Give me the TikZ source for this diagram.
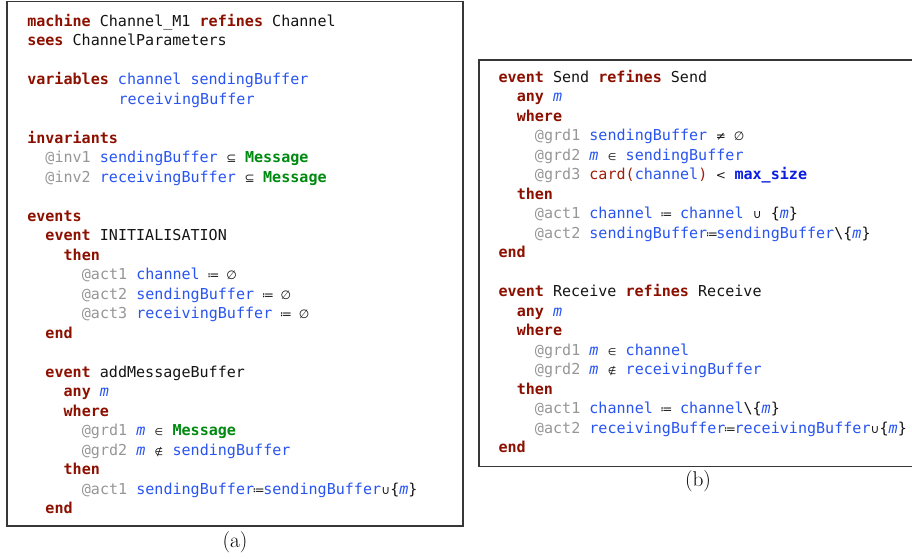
\documentclass[tikz,border=0pt]{standalone}
\usepackage{fontspec}
\setmonofont{DejaVu Sans Mono}
\newfontfamily\symf{DejaVu Sans}[Scale=0.8]
\newfontfamily\symsmall{DejaVu Sans}[Scale=0.65]
\definecolor{kwred}{RGB}{140,16,0}
\definecolor{varblue}{RGB}{40,84,240}
\definecolor{cstblue}{RGB}{10,30,225}
\definecolor{cstgreen}{RGB}{0,138,16}
\definecolor{lblgray}{RGB}{150,150,150}
\definecolor{opred}{RGB}{160,30,10}
\definecolor{txtblk}{RGB}{20,20,20}
\definecolor{framegray}{RGB}{55,55,55}
\newcommand\kw[1]{{\bfseries\color{kwred}#1}}
\newcommand\vb[1]{{\color{varblue}#1}}
\newcommand\lb[1]{{\color{lblgray}#1}}
\newcommand\cst[1]{{\bfseries\color{cstgreen}#1}}
\newcommand\bcst[1]{{\bfseries\color{cstblue}#1}}
\newcommand\opr[1]{{\color{opred}#1}}
\newcommand\mv{{\itshape\color{varblue}m}}
\newcommand\sy[1]{\makebox[0.602em][c]{\symf #1}}
\newcommand\sys[1]{\makebox[0.602em][c]{\symsmall #1}}
\newcommand\lbr{\textbraceleft}
\newcommand\rbr{\textbraceright}
\tikzset{
  code/.style={anchor=base west, inner sep=0pt, text=txtblk,
    font=\ttfamily\fontsize{11.3}{13}\selectfont},
  frame/.style={draw=framegray, line width=0.9pt},
  caption/.style={inner sep=0pt, font=\fontsize{16}{18}\selectfont}
}
\begin{document}
\begin{tikzpicture}[x=0.75pt,y=-0.75pt]
\useasboundingbox (0,0) rectangle (912,558);
% frames
\draw[frame] (7,1.5) rectangle (463,526);
\draw[frame] (912,60) -- (479,60) -- (479,466.5) -- (912,466.5);
% left box
\node[code] (l1)  at (27,26)    {\kw{machine} Channel\_M1 \kw{refines} Channel};
\node[code] (l2)  at (27,45.5)  {\kw{sees} ChannelParameters};
\node[code] (l4)  at (27,84.5)  {\kw{variables} \vb{channel sendingBuffer}};
\node[code] (l5)  at (118.3,104) {\vb{receivingBuffer}};
\node[code] (l7)  at (27,143)   {\kw{invariants}};
\node[code] (l8)  at (45.2,162.5) {\lb{@inv1} \vb{sendingBuffer} \sy{⊆} \cst{Message}};
\node[code] (l9)  at (45.2,182)   {\lb{@inv2} \vb{receivingBuffer} \sy{⊆} \cst{Message}};
\node[code] (l11) at (27,221)   {\kw{events}};
\node[code] (l12) at (45.2,240.5) {\kw{event} INITIALISATION};
\node[code] (l13) at (63.4,260)   {\kw{then}};
\node[code] (l14) at (81.6,279.5) {\lb{@act1} \vb{channel} \sy{≔} \sy{∅}};
\node[code] (l15) at (81.6,299)   {\lb{@act2} \vb{sendingBuffer} \sy{≔} \sy{∅}};
\node[code] (l16) at (81.6,318.5) {\lb{@act3} \vb{receivingBuffer} \sy{≔} \sy{∅}};
\node[code] (l17) at (45.2,338)   {\kw{end}};
\node[code] (l19) at (45.2,377)   {\kw{event} addMessageBuffer};
\node[code] (l20) at (63.4,396.5) {\kw{any} \mv};
\node[code] (l21) at (63.4,416)   {\kw{where}};
\node[code] (l22) at (81.6,435.5) {\lb{@grd1} \mv{} \sys{∈} \cst{Message}};
\node[code] (l23) at (81.6,455)   {\lb{@grd2} \mv{} \sys{∉} \vb{sendingBuffer}};
\node[code] (l24) at (63.4,474.5) {\kw{then}};
\node[code] (l25) at (81.6,494)   {\lb{@act1} \vb{sendingBuffer}\sy{≔}\vb{sendingBuffer}\sy{∪}\lbr\mv\rbr};
\node[code] (l26) at (45.2,513.5) {\kw{end}};
\node[caption] (capa) at (235,542) {(a)};
% right box
\node[code] (r1)  at (498.3,82)    {\kw{event} Send \kw{refines} Send};
\node[code] (r2)  at (516.5,101.5) {\kw{any} \mv};
\node[code] (r3)  at (516.5,121)   {\kw{where}};
\node[code] (r4)  at (534.7,140.5) {\lb{@grd1} \vb{sendingBuffer} \sy{≠} \sy{∅}};
\node[code] (r5)  at (534.7,160)   {\lb{@grd2} \mv{} \sys{∈} \vb{sendingBuffer}};
\node[code] (r6)  at (534.7,179.5) {\lb{@grd3} \opr{card(}\vb{channel}\opr{)} \sy{<} \bcst{max\_size}};
\node[code] (r7)  at (516.5,199)   {\kw{then}};
\node[code] (r8)  at (534.7,218.5) {\lb{@act1} \vb{channel} \sy{≔} \vb{channel} \sy{∪} \lbr\mv\rbr};
\node[code] (r9)  at (534.7,238)   {\lb{@act2} \vb{sendingBuffer}\sy{≔}\vb{sendingBuffer}\textbackslash\lbr\mv\rbr};
\node[code] (r10) at (498.3,257.5) {\kw{end}};
\node[code] (r12) at (498.3,296.5) {\kw{event} Receive \kw{refines} Receive};
\node[code] (r13) at (516.5,316)   {\kw{any} \mv};
\node[code] (r14) at (516.5,335.5) {\kw{where}};
\node[code] (r15) at (534.7,355)   {\lb{@grd1} \mv{} \sys{∈} \vb{channel}};
\node[code] (r16) at (534.7,374.5) {\lb{@grd2} \mv{} \sys{∉} \vb{receivingBuffer}};
\node[code] (r17) at (516.5,394)   {\kw{then}};
\node[code] (r18) at (534.7,413.5) {\lb{@act1} \vb{channel} \sy{≔} \vb{channel}\textbackslash\lbr\mv\rbr};
\node[code] (r19) at (534.7,433)   {\lb{@act2} \vb{receivingBuffer}\sy{≔}\vb{receivingBuffer}\sy{∪}\lbr\mv\rbr};
\node[code] (r20) at (498.3,452.5) {\kw{end}};
\node[caption] (capb) at (698,481) {(b)};
\end{tikzpicture}
\end{document}
